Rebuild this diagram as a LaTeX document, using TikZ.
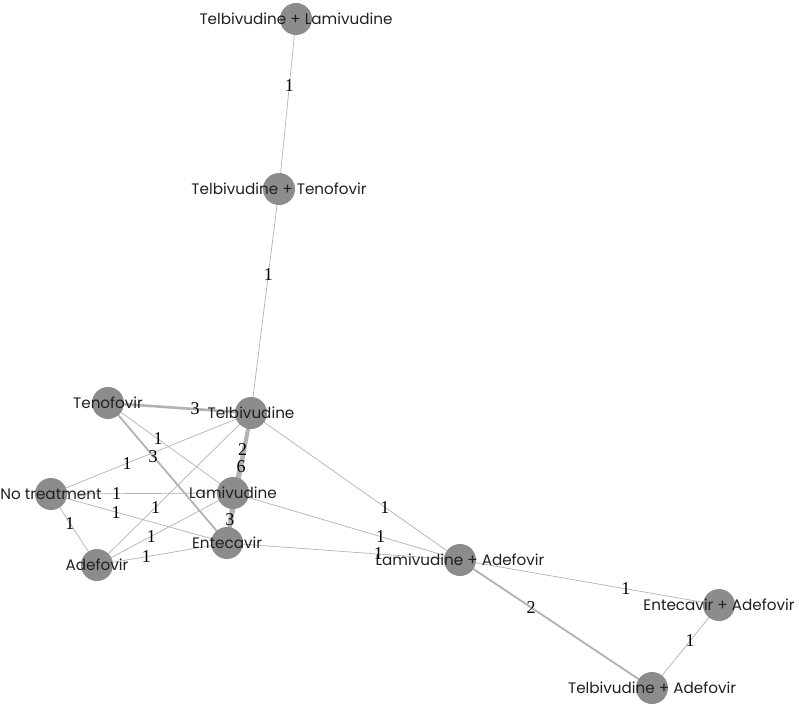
\documentclass[tikz,border=0pt]{standalone}
\usepackage{fontspec}
\setmainfont{Liberation Serif}
\newfontfamily\nodefont{Poppins}
\usetikzlibrary{backgrounds}
\pgfdeclarelayer{fg}
\pgfsetlayers{background,main,fg}
\definecolor{nodegray}{RGB}{140,140,140}
\definecolor{edgegray}{RGB}{178,178,178}
\begin{document}
\begin{tikzpicture}[x=1pt,y=-1pt,
  trt/.style={circle,fill=nodegray,minimum size=32pt,inner sep=0pt},
  ttxt/.style={font=\nodefont\fontsize{15.2}{17}\selectfont,text=black!88,inner sep=0pt},
  ed/.style={draw=edgegray,line width=0.7pt},
  ed2/.style={draw=edgegray,line width=1.8pt},
  ed3/.style={draw=edgegray,line width=2.6pt},
  ed6/.style={draw=edgegray,line width=4pt},
  lab/.style={font=\fontsize{18}{20}\selectfont,inner sep=0pt,text=black}]
\useasboundingbox (0,0) rectangle (799,706);
% treatment circles
\node[trt] (TL) at (296,19) {};
\node[trt] (TT) at (279,189) {};
\node[trt] (Tel) at (251,413) {};
\node[trt] (Ten) at (108,403) {};
\node[trt] (NT) at (51,494) {};
\node[trt] (Lam) at (233,493) {};
\node[trt] (Ent) at (227,543) {};
\node[trt] (Ade) at (97,565) {};
\node[trt] (LA) at (460,560) {};
\node[trt] (EA) at (719,605) {};
\node[trt] (TA) at (652,688) {};
% comparison lines
\begin{scope}[on background layer]
\draw[ed] (TL.center) -- (TT.center);
\draw[ed] (TT.center) -- (Tel.center);
\draw[ed3] (Ten.center) -- (Tel.center);
\draw[ed2] (Ten.center) -- (Ent.center);
\draw[ed] (Ten.center) -- (Lam.center);
\draw[ed] (NT.center) -- (Tel.center);
\draw[ed6] (Tel.center) -- (Ent.center);
\draw[ed2] (Tel.center) -- (Lam.center);
\draw[ed3] (Lam.center) -- (Ent.center);
\draw[ed] (NT.center) -- (Lam.center);
\draw[ed] (NT.center) -- (Ent.center);
\draw[ed] (NT.center) -- (Ade.center);
\draw[ed] (Ade.center) -- (Tel.center);
\draw[ed] (Ade.center) -- (Lam.center);
\draw[ed] (Ade.center) -- (Ent.center);
\draw[ed] (Tel.center) -- (LA.center);
\draw[ed] (Lam.center) -- (LA.center);
\draw[ed] (Ent.center) -- (LA.center);
\draw[ed] (LA.center) -- (EA.center);
\draw[ed2] (LA.center) -- (TA.center);
\draw[ed] (EA.center) -- (TA.center);
\end{scope}
\begin{pgfonlayer}{fg}
% treatment names
\node[ttxt] (TLt) at (TL) {Telbivudine + Lamivudine};
\node[ttxt] (TTt) at (TT) {Telbivudine + Tenofovir};
\node[ttxt] (Telt) at (Tel) {Telbivudine};
\node[ttxt] (Tent) at (Ten) {Tenofovir};
\node[ttxt] (NTt) at (NT) {No treatment};
\node[ttxt] (Lamt) at (Lam) {Lamivudine};
\node[ttxt] (Entt) at (Ent) {Entecavir};
\node[ttxt] (Adet) at (Ade) {Adefovir};
\node[ttxt] (LAt) at (LA) {Lamivudine + Adefovir};
\node[ttxt] (EAt) at (EA) {Entecavir + Adefovir};
\node[ttxt] (TAt) at (TA) {Telbivudine + Adefovir};
% numbers of studies
\path (TL.center) -- node[lab,pos=0.39]{1} (TT.center);
\path (TT.center) -- node[lab,pos=0.38]{1} (Tel.center);
\path (Ten.center) -- node[lab,pos=0.61]{3} (Tel.center);
\path (Ten.center) -- node[lab,pos=0.38]{3} (Ent.center);
\path (Ten.center) -- node[lab,pos=0.40]{1} (Lam.center);
\path (NT.center) -- node[lab,pos=0.38]{1} (Tel.center);
\path (Tel.center) -- node[lab,pos=0.415]{6} (Ent.center);
\path (Tel.center) -- node[lab,pos=0.46]{2} (Lam.center);
\path (Lam.center) -- node[lab,pos=0.54]{3} (Ent.center);
\path (NT.center) -- node[lab,pos=0.36]{1} (Lam.center);
\path (NT.center) -- node[lab,pos=0.37]{1} (Ent.center);
\path (NT.center) -- node[lab,pos=0.41]{1} (Ade.center);
\path (Ade.center) -- node[lab,pos=0.38]{1} (Tel.center);
\path (Ade.center) -- node[lab,pos=0.40]{1} (Lam.center);
\path (Ade.center) -- node[lab,pos=0.38]{1} (Ent.center);
\path (Tel.center) -- node[lab,pos=0.64]{1} (LA.center);
\path (Lam.center) -- node[lab,pos=0.65]{1} (LA.center);
\path (Ent.center) -- node[lab,pos=0.65]{1} (LA.center);
\path (LA.center) -- node[lab,pos=0.64]{1} (EA.center);
\path (LA.center) -- node[lab,pos=0.37]{2} (TA.center);
\path (EA.center) -- node[lab,pos=0.43]{1} (TA.center);
\end{pgfonlayer}
\end{tikzpicture}
\end{document}
